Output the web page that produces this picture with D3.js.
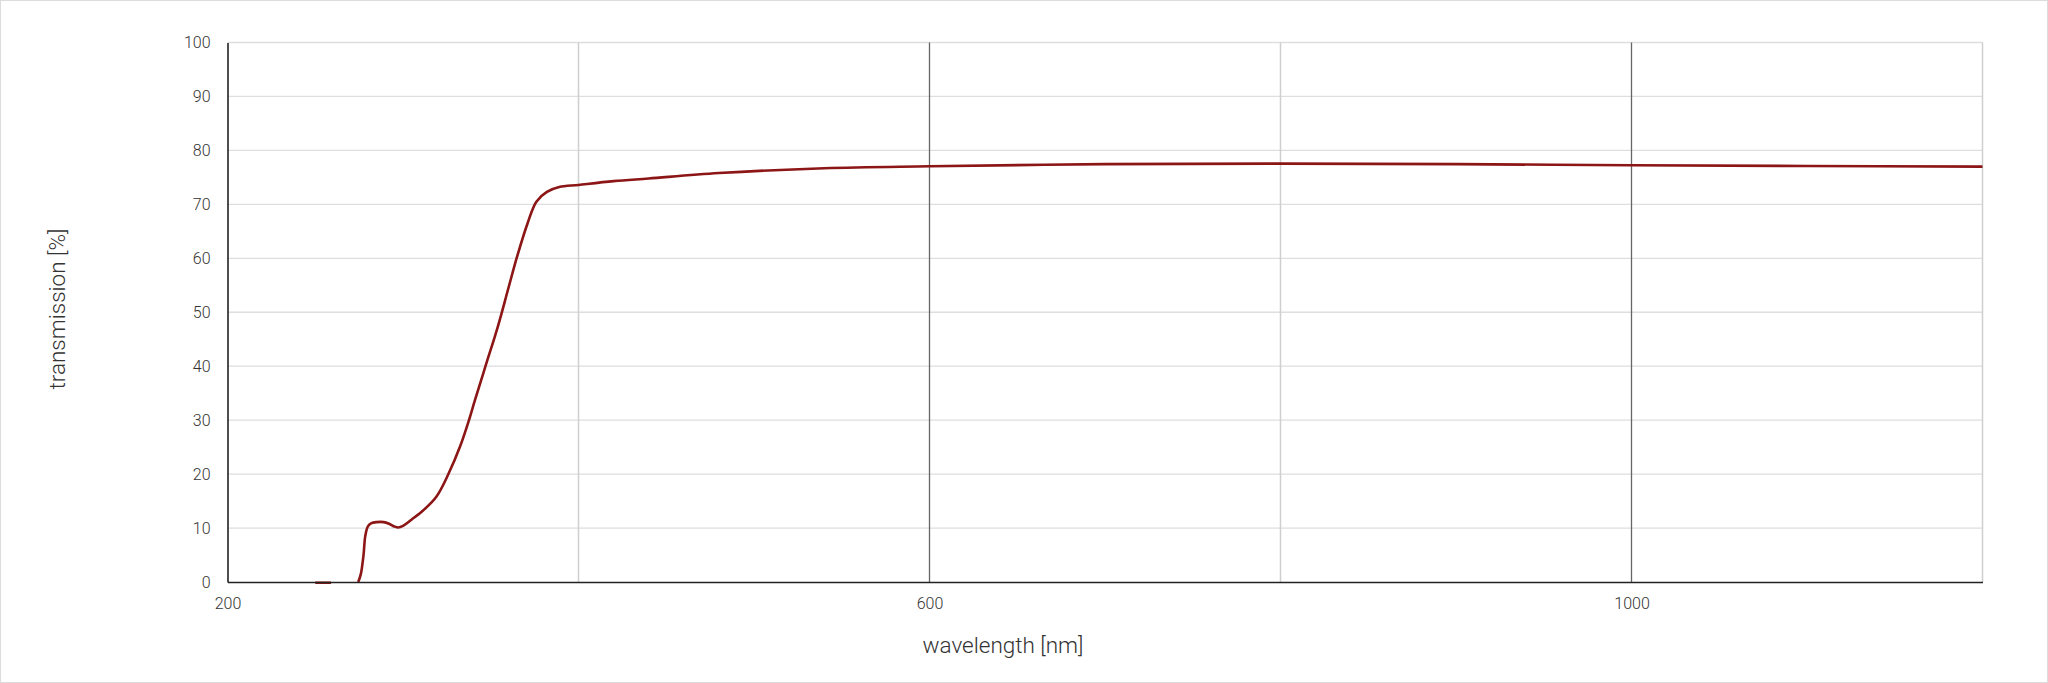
<!DOCTYPE html>
<html>
<head>
<meta charset="utf-8">
<script src="https://cdn.jsdelivr.net/npm/d3@7"></script>
<style>
  html, body { margin: 0; padding: 0; background: #fff; }
  svg { display: block; }
  text { font-family: Roboto, "Noto Sans", sans-serif; font-weight: 300; fill: #333; }
</style>
</head>
<body>
<svg id="chart" width="2048" height="683"></svg>
<script>
const wavelength = [250, 254, 259, 266, 274.5, 276, 277.5, 278.5, 280, 282, 285, 289, 292, 295, 297.3, 300, 305, 311.6, 319, 326, 332.5, 337, 341, 347, 354, 360, 365, 371, 376, 382, 389, 400, 420, 440, 480, 540, 600, 700, 800, 900, 1000, 1100, 1200];
const transmission = [-0.15, -0.15, -0.15, null, 0, 1.5, 5, 8.5, 10.3, 10.9, 11.1, 11.1, 10.8, 10.3, 10.1, 10.4, 11.6, 13.3, 15.8, 20.1, 25.1, 29.4, 33.7, 40.0, 47.3, 54.4, 60.3, 66.5, 70.5, 72.3, 73.2, 73.6, 74.3, 74.8, 75.8, 76.7, 77.05, 77.45, 77.55, 77.45, 77.25, 77.1, 77.0];
const xTicks = [200, 600, 1000];
const xGrid = [400, 600, 800, 1000, 1200];
const xGridDark = [600, 1000];
const yTicks = [0, 10, 20, 30, 40, 50, 60, 70, 80, 90, 100];
const xTitle = "wavelength [nm]";
const yTitle = "transmission [%]";

const W = 2048, H = 683;
const m = {left: 227.5, right: 2048 - 1982.5, top: 42.5, bottom: 683 - 582};
const svg = d3.select("#chart");

svg.append("rect").attr("x", 0.5).attr("y", 0.5).attr("width", W - 1).attr("height", H - 1)
  .attr("fill", "#fff").attr("stroke", "#dcdcdc");

const x = d3.scaleLinear().domain([200, 1200]).range([m.left, W - m.right]);
const y = d3.scaleLinear().domain([0, 100]).range([H - m.bottom, m.top]);

// horizontal grid
svg.append("g").selectAll("line").data(yTicks.filter(d => d > 0)).join("line")
  .attr("x1", x(200)).attr("x2", x(1200))
  .attr("y1", d => y(d)).attr("y2", d => y(d))
  .attr("stroke", "#dedede").attr("stroke-width", 1.3);

// vertical grid
svg.append("g").selectAll("line").data(xGrid).join("line")
  .attr("x1", d => x(d)).attr("x2", d => x(d))
  .attr("y1", y(0)).attr("y2", y(100))
  .attr("stroke", d => xGridDark.includes(d) ? "#666" : "#cfcfcf")
  .attr("stroke-width", d => xGridDark.includes(d) ? 1.3 : 1.5);

// line
const data = wavelength.map((w, i) => [w, transmission[i]]);
svg.append("path").datum(data)
  .attr("fill", "none").attr("stroke", "#8c1515").attr("stroke-width", 2.6)
  .attr("stroke-linejoin", "round")
  .attr("d", d3.line().defined(d => d[1] !== null)
    .x(d => x(d[0])).y(d => y(d[1])).curve(d3.curveCatmullRom.alpha(0.5)));

// axes
const xAxis = svg.append("g").attr("transform", `translate(0,${y(0)})`)
  .call(d3.axisBottom(x).tickValues(xTicks).tickFormat(d3.format("d")).tickSize(0).tickPadding(16));
xAxis.select(".domain").attr("stroke", "#222").attr("stroke-width", 1.6);
xAxis.selectAll("text").attr("font-size", 16).attr("fill", "#333")
  .style("font-family", "Roboto, sans-serif").style("font-weight", 300);

const yAxis = svg.append("g").attr("transform", `translate(${x(200)},0)`)
  .call(d3.axisLeft(y).tickValues(yTicks).tickSize(0).tickPadding(17));
yAxis.select(".domain").attr("stroke", "#222").attr("stroke-width", 1.6);
yAxis.selectAll("text").attr("font-size", 16).attr("fill", "#333")
  .style("font-family", "Roboto, sans-serif").style("font-weight", 300);

// titles
svg.append("text").attr("x", 1003).attr("y", 647)
  .attr("text-anchor", "middle").attr("dominant-baseline", "middle")
  .attr("font-size", 22.5).attr("fill", "#222").text(xTitle);
svg.append("text").attr("transform", `translate(59,309) rotate(-90)`)
  .attr("text-anchor", "middle").attr("dominant-baseline", "middle")
  .attr("font-size", 22.5).attr("fill", "#222").text(yTitle);
</script>
</body>
</html>
